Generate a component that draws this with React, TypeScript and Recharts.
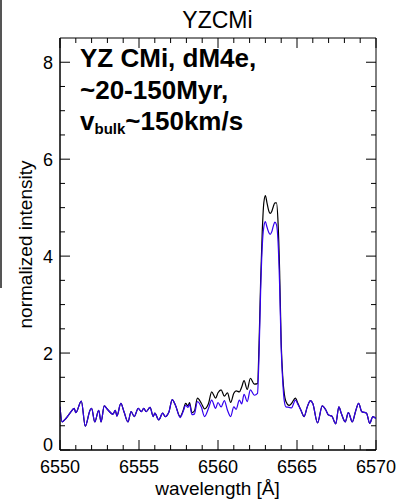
import React from "react"
import { Line, LineChart, ReferenceArea, XAxis, YAxis } from "recharts"

const wavelength = [
  6550.0, 6550.13, 6550.4, 6550.7, 6550.9, 6551.0, 6551.35, 6551.6, 6551.9, 6552.0,
  6552.2, 6552.45, 6552.6, 6552.8, 6553.0, 6553.35, 6553.5, 6553.6, 6553.85, 6554.05,
  6554.3, 6554.5, 6554.7, 6554.95, 6555.15, 6555.3, 6555.45, 6555.7, 6555.9, 6556.0,
  6556.25, 6556.5, 6556.65, 6556.9, 6557.1, 6557.3, 6557.6, 6557.8, 6557.95, 6558.1,
  6558.2, 6558.35, 6558.5, 6558.7, 6558.95, 6559.15, 6559.4, 6559.6, 6559.85, 6560.0,
  6560.2, 6560.4, 6560.6, 6560.8, 6561.0, 6561.15, 6561.35, 6561.5, 6561.65, 6561.85,
  6562.05, 6562.3, 6562.5, 6562.6, 6562.7, 6562.8, 6562.9, 6563.0, 6563.1, 6563.2,
  6563.3, 6563.4, 6563.5, 6563.6, 6563.7, 6563.8, 6563.9, 6564.0, 6564.1, 6564.2,
  6564.3, 6564.5, 6564.65, 6564.9, 6565.06, 6565.25, 6565.45, 6565.65, 6565.85, 6566.0,
  6566.3, 6566.6, 6566.8, 6567.0, 6567.2, 6567.45, 6567.65, 6567.8, 6568.05, 6568.25,
  6568.5, 6568.7, 6568.9, 6569.1, 6569.4, 6569.6, 6569.8, 6570.0,
]

const fluxBlack = [
  0.89, 0.58, 0.66, 0.79, 0.86, 0.77, 1.01, 0.49, 0.82, 0.86,
  0.58, 0.82, 0.58, 0.91, 0.84, 0.74, 0.82, 0.7, 0.96, 0.79,
  0.58, 0.79, 0.69, 0.86, 0.79, 0.86, 0.79, 0.88, 0.69, 0.76,
  0.62, 0.76, 0.69, 0.79, 1.04, 0.93, 0.69, 0.82, 0.96, 0.91,
  0.98, 0.77, 0.8, 1.07, 0.96, 0.85, 0.96, 1.2, 1.07, 1.18,
  1.24, 1.11, 1.18, 0.98, 1.17, 1.22, 1.2, 1.3, 1.43, 1.25,
  1.48, 1.36, 1.37, 2.2, 3.5, 4.5, 5.1, 5.25, 5.1, 4.95,
  4.88, 4.92, 5.02, 5.1, 5.1, 4.7, 3.7, 2.2, 1.5, 1.15,
  1.0, 0.92, 0.96, 1.07, 0.96, 0.82, 0.69, 0.89, 1.02, 0.96,
  0.56, 0.91, 0.84, 0.72, 0.7, 0.54, 0.89, 0.76, 0.58, 0.77,
  0.58, 0.79, 0.96, 0.79, 0.76, 0.55, 0.69, 0.65,
]

const fluxBlue = [
  0.89, 0.58, 0.66, 0.79, 0.86, 0.77, 1.01, 0.49, 0.82, 0.86,
  0.58, 0.82, 0.58, 0.91, 0.84, 0.74, 0.82, 0.7, 0.96, 0.79,
  0.58, 0.79, 0.69, 0.86, 0.79, 0.86, 0.79, 0.88, 0.69, 0.76,
  0.62, 0.76, 0.69, 0.79, 1.04, 0.93, 0.67, 0.8, 0.92, 0.88,
  0.94, 0.73, 0.74, 1.0, 0.88, 0.69, 0.86, 1.03, 0.86, 0.98,
  0.89, 1.02, 0.82, 0.69, 0.89, 0.84, 1.03, 0.95, 1.15, 1.0,
  1.24, 1.13, 1.17, 2.0, 3.3, 4.2, 4.6, 4.71, 4.6, 4.5,
  4.45, 4.5, 4.62, 4.7, 4.65, 4.3, 3.4, 2.1, 1.4, 1.0,
  0.89, 0.88, 0.87, 1.03, 0.94, 0.82, 0.69, 0.89, 1.02, 0.96,
  0.56, 0.91, 0.84, 0.72, 0.7, 0.54, 0.89, 0.76, 0.58, 0.77,
  0.58, 0.79, 0.96, 0.79, 0.76, 0.55, 0.69, 0.65,
]

const xTicks = [
  6550, 6551, 6552, 6553, 6554, 6555, 6556, 6557, 6558, 6559, 6560,
  6561, 6562, 6563, 6564, 6565, 6566, 6567, 6568, 6569, 6570,
]
const yTicks = [0, 0.5, 1, 1.5, 2, 2.5, 3, 3.5, 4, 4.5, 5, 5.5, 6, 6.5, 7, 7.5, 8]

const data = wavelength.map((w, i) => ({ w, black: fluxBlack[i], blue: fluxBlue[i] }))

const FONT = "'Liberation Sans', Arial, sans-serif"

// plot box edges (layout only)
const TOP = 38
const BOTTOM = 450
const LEFT = 60
const RIGHT = 376

const XTick = (props: any) => {
  const { x, payload } = props
  const major = payload.value % 5 === 0
  const len = major ? 10 : 5
  return (
    <g>
      <line x1={x} x2={x} y1={BOTTOM} y2={BOTTOM - len} stroke="#000" strokeWidth={1} />
      <line x1={x} x2={x} y1={TOP} y2={TOP + len} stroke="#000" strokeWidth={1} />
      {major && (
        <text x={x} y={473} textAnchor="middle" fontSize={18} fill="#000" fontFamily={FONT}>
          {payload.value}
        </text>
      )}
    </g>
  )
}

const YTick = (props: any) => {
  const { y, payload } = props
  const major = payload.value % 2 === 0
  const len = major ? 10 : 5
  // IDL lifts the zero label clear of the x labels
  const ty = payload.value === 0 ? y + 0.5 : y + 6.5
  return (
    <g>
      <line x1={LEFT} x2={LEFT + len} y1={y} y2={y} stroke="#000" strokeWidth={1} />
      <line x1={RIGHT} x2={RIGHT - len} y1={y} y2={y} stroke="#000" strokeWidth={1} />
      {major && (
        <text x={53} y={ty} textAnchor="end" fontSize={18} fill="#000" fontFamily={FONT}>
          {payload.value}
        </text>
      )}
    </g>
  )
}

export default function App() {
  return (
    <div
      style={{
        position: "absolute",
        left: 0,
        top: 0,
        width: 397,
        height: 500,
        background: "#fff",
      }}
    >
      <div style={{ position: "absolute", left: 0, top: 0, width: 2, height: 288, background: "#555" }} />
      <LineChart width={397} height={500} data={data} margin={{ top: TOP, right: 397 - RIGHT, bottom: 0, left: 0 }}>
        <XAxis
          dataKey="w"
          type="number"
          domain={[6550, 6570]}
          ticks={xTicks}
          interval={0}
          allowDataOverflow
          tickSize={0}
          tickMargin={0}
          tickLine={false}
          tick={(p: any) => <XTick {...p} />}
          axisLine={{ stroke: "#000" }}
          height={500 - BOTTOM}
        />
        <YAxis
          type="number"
          domain={[0, 8.5]}
          ticks={yTicks}
          interval={0}
          allowDataOverflow
          tickSize={0}
          tickMargin={0}
          tickLine={false}
          tick={(p: any) => <YTick {...p} />}
          axisLine={{ stroke: "#000" }}
          width={LEFT}
        />
        <ReferenceArea x1={6550} x2={6570} y1={0} y2={8.5} fill="none" stroke="#000" strokeWidth={1} ifOverflow="visible" />
        <Line
          type="monotone"
          dataKey="black"
          stroke="#000"
          strokeWidth={1.2}
          dot={false}
          isAnimationActive={false}
        />
        <Line
          type="monotone"
          dataKey="blue"
          stroke="#3300ee"
          strokeWidth={1.2}
          dot={false}
          isAnimationActive={false}
        />
      </LineChart>
      <svg
        width={397}
        height={500}
        style={{ position: "absolute", left: 0, top: 0, pointerEvents: "none" }}
        fontFamily={FONT}
        fill="#000"
      >
        <text x={217.5} y={28} textAnchor="middle" fontSize={23}>
          YZCMi
        </text>
        <g fontSize={26} fontWeight="bold">
          <text x={80} y={67}>YZ CMi, dM4e,</text>
          <text x={80} y={98.5}>~20-150Myr,</text>
          <text x={80} y={130}>
            v<tspan fontSize={15} dy={4}>bulk</tspan>
            <tspan dy={-4}>~150km/s</tspan>
          </text>
        </g>
        <text x={32} y={244.5} textAnchor="middle" fontSize={19} transform="rotate(-90, 32, 244.5)">
          normalized intensity
        </text>
        <text x={217.5} y={495} textAnchor="middle" fontSize={19}>
          wavelength [Å]
        </text>
      </svg>
    </div>
  )
}
